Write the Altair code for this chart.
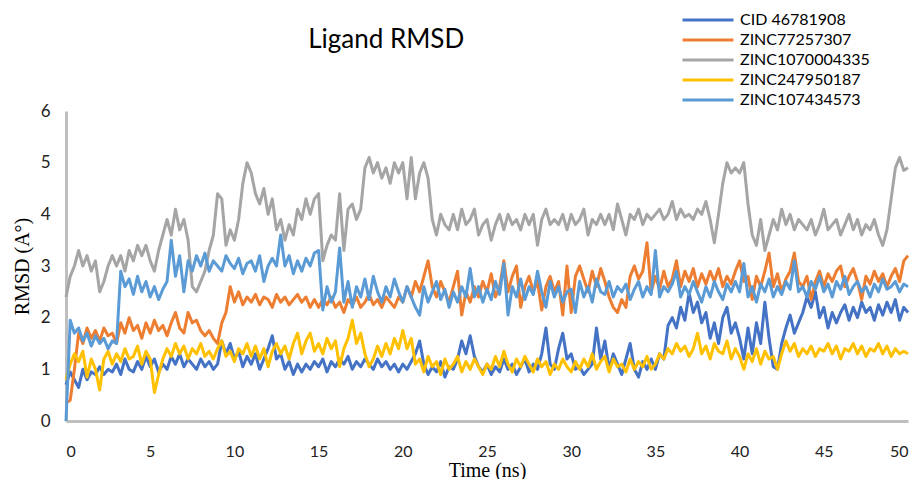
import altair as alt
import pandas as pd

series_names = ["CID 46781908", "ZINC77257307", "ZINC1070004335", "ZINC247950187", "ZINC107434573"]
series_colors = ["#4472C4", "#ED7D31", "#A5A5A5", "#FFC000", "#5B9BD5"]
time_step_ns = 0.25

cid_46781908 = [
    0.7, 0.95, 0.8, 0.65, 1.0, 0.8, 0.95, 0.9, 1.05, 0.9, 1.0, 0.95, 1.1, 0.9, 1.2, 1.0,
    0.95, 1.15, 1.0, 1.25, 1.05, 1.2, 0.95, 1.1, 1.0, 1.25, 1.1, 1.3, 1.05, 1.2, 1.1, 1.0,
    1.2, 1.05, 1.15, 1.0, 1.1, 1.55, 1.3, 1.5, 1.2, 1.35, 1.05, 1.25, 1.1, 1.3, 1.0, 1.2,
    1.4, 1.65, 1.2, 1.3, 1.0, 1.15, 0.9, 1.1, 0.95, 1.1, 1.0, 1.15, 1.05, 1.2, 0.95, 1.15,
    1.05, 1.2, 1.1, 1.25, 1.0, 1.15, 1.05, 1.2, 1.1, 1.0, 1.2, 1.05, 1.15, 1.0, 1.1, 0.95,
    1.1, 1.0, 1.15, 1.3, 1.55, 1.1, 0.9, 1.05, 0.95, 1.15, 0.85, 1.05, 1.0, 1.2, 1.55, 1.3,
    1.65, 1.25, 1.05, 0.95, 1.1, 0.9, 1.05, 0.95, 1.2, 1.0, 1.1, 0.9, 1.05, 1.2, 0.95, 1.1,
    1.0, 1.3, 1.8, 1.1, 1.0, 1.4, 1.7, 1.2, 1.3, 1.0, 1.05, 0.9, 1.0, 1.1, 1.8, 1.2,
    1.55, 1.0, 1.3, 1.1, 0.9, 1.2, 1.5, 1.0, 0.85, 1.15, 1.0, 1.2, 1.0, 1.3, 1.2, 1.85,
    2.0, 1.8, 2.2, 1.95, 2.48, 2.1, 2.3, 1.9, 2.1, 1.6, 1.9, 1.5, 2.0, 2.2, 1.7, 1.9,
    1.6, 1.2, 1.8, 1.3, 1.9, 1.5, 2.3, 1.6, 1.05, 1.0, 1.5, 1.8, 2.05, 1.7, 1.9, 2.1,
    2.4, 2.2, 2.5, 2.0, 2.2, 1.8, 2.1, 1.9, 2.1, 2.25, 1.95, 2.2, 2.0, 2.3, 2.1, 2.2,
    1.95, 2.25, 2.05, 2.3, 2.1, 2.35, 1.95, 2.2, 2.1,
]

zinc77257307 = [
    0.35, 0.4, 1.0, 1.7, 1.5, 1.8, 1.6, 1.75, 1.55, 1.8, 1.65, 1.7, 1.5, 1.9, 1.7, 2.0,
    1.75, 1.85, 1.6, 1.9, 1.7, 1.95, 1.75, 1.85, 1.65, 1.9, 2.1, 1.8, 1.7, 2.1, 1.9, 1.95,
    1.75, 1.65, 1.75, 1.6, 1.5, 1.9, 2.1, 2.6, 2.3, 2.5, 2.25, 2.4, 2.3, 2.45, 2.25, 2.4,
    2.35, 2.2, 2.45, 2.3, 2.4, 2.25, 2.35, 2.45, 2.3, 2.4, 2.2, 2.35, 2.2, 2.35, 2.25, 2.4,
    2.2, 2.3, 2.1, 2.35, 2.25, 2.4, 2.2, 2.3, 2.45, 2.25, 2.35, 2.2, 2.4, 2.3, 2.2, 2.4,
    2.3, 2.6, 2.4, 2.7, 2.5, 2.8, 3.1, 2.6, 2.4, 2.7, 2.5, 2.3, 2.6, 2.9, 2.05, 2.5,
    2.3, 2.6, 2.4, 2.7, 2.5, 2.85, 2.4, 2.6, 3.1, 2.5, 2.8, 3.0, 2.2, 2.6, 2.8, 2.5,
    2.7, 2.15, 2.6, 2.8, 2.5, 2.7, 2.05, 3.0, 2.1, 2.8, 3.0, 2.75, 2.5, 2.9, 2.6, 2.95,
    2.7, 2.4, 2.2, 2.1, 2.35, 2.2, 2.8, 3.0, 2.75, 2.9, 3.45, 2.5, 2.8, 2.55, 2.9, 2.6,
    2.75, 3.1, 2.6, 2.9, 2.7, 2.95, 2.6, 2.85, 2.65, 2.9, 2.7, 2.95, 2.6, 2.8, 2.65, 2.9,
    3.1, 2.7, 2.8, 2.35, 2.8, 2.6, 2.9, 3.25, 2.6, 2.85, 2.5, 2.75, 2.9, 3.25, 2.7, 2.6,
    2.8, 2.35, 2.7, 2.9, 2.6, 2.85, 2.7, 2.9, 3.0, 2.6, 2.8, 2.95, 2.7, 2.35, 2.8, 2.65,
    2.9, 2.7, 2.85, 2.6, 2.8, 2.95, 2.7, 3.1, 3.2,
]

zinc1070004335 = [
    2.4, 2.8, 3.0, 3.3, 3.0, 3.2, 2.9, 3.1, 2.5, 2.7, 3.0, 3.2, 3.0, 3.2, 2.9, 3.3,
    3.1, 3.4, 3.2, 3.4, 3.1, 2.9, 3.3, 3.6, 3.9, 3.6, 4.1, 3.7, 3.9, 3.5, 2.6, 2.5,
    2.7, 2.9, 3.3, 3.6, 4.4, 4.3, 3.4, 3.7, 3.5, 3.9, 4.6, 5.0, 4.8, 4.4, 4.2, 4.5,
    4.0, 4.3, 3.7, 3.9, 3.5, 3.8, 3.6, 4.1, 3.9, 4.3, 4.0, 4.3, 4.4, 3.1, 3.4, 3.6,
    3.5, 4.4, 3.3, 4.1, 4.2, 3.9, 4.1, 4.9, 5.1, 4.8, 5.0, 4.7, 4.9, 4.6, 5.0, 4.8,
    5.0, 4.3, 5.1, 4.3, 4.8, 5.0, 4.7, 3.9, 3.6, 4.0, 3.8, 3.7, 4.0, 3.7, 4.1, 3.8,
    3.9, 4.1, 3.6, 3.8, 3.9, 3.5, 3.8, 4.0, 3.7, 4.0, 3.8, 3.9, 3.7, 4.0, 3.8, 4.0,
    3.4, 3.9, 4.1, 3.8, 3.9, 3.8, 4.0, 3.7, 4.0, 3.8, 3.9, 4.1, 3.6, 3.9, 3.8, 4.0,
    3.8, 4.0, 3.7, 4.2, 3.9, 3.6, 4.0, 3.9, 4.1, 3.8, 4.0, 3.9, 4.0, 4.1, 3.9, 4.0,
    4.25, 3.9, 4.1, 3.95, 4.0, 3.9, 4.1, 4.0, 4.25, 3.9, 3.45, 4.0, 4.6, 5.0, 4.8, 4.9,
    4.8, 5.0, 4.2, 3.6, 3.4, 3.9, 3.3, 3.6, 3.9, 3.7, 4.1, 3.8, 4.0, 3.7, 3.9, 3.8,
    3.7, 3.9, 3.6, 3.8, 4.1, 3.7, 3.8, 3.9, 3.6, 3.8, 4.0, 3.7, 3.9, 3.6, 3.8, 3.7,
    3.9, 3.6, 3.4, 3.7, 4.3, 4.9, 5.1, 4.85, 4.9,
]

zinc247950187 = [
    0.8, 1.1, 1.3, 1.15, 1.35, 0.85, 1.2, 1.0, 0.6, 1.2, 1.35, 1.1, 1.3, 1.15, 1.4, 1.2,
    1.25, 1.45, 1.1, 1.35, 1.2, 0.55, 0.9, 1.2, 1.4, 1.25, 1.5, 1.3, 1.45, 1.2, 1.4, 1.3,
    1.5, 1.25, 1.35, 1.2, 1.4, 1.55, 1.25, 1.35, 1.15, 1.4, 1.3, 1.5, 1.25, 1.45, 1.2, 1.4,
    1.05, 1.35, 1.5, 1.3, 1.45, 1.2, 1.5, 1.7, 1.3, 1.55, 1.7, 1.35, 1.5, 1.3, 1.6, 1.4,
    1.55, 1.05, 1.4, 1.6, 1.95, 1.5, 1.7, 1.3, 1.05, 1.2, 1.45, 1.25, 1.5, 1.3, 1.6, 1.4,
    1.75, 1.4, 1.6, 1.1, 1.2, 0.95, 1.25, 1.05, 1.15, 0.9, 1.2, 1.0, 1.1, 1.25, 0.95, 1.15,
    1.0, 1.2, 1.05, 0.9, 1.1, 1.0, 1.25, 1.05, 1.35, 1.1, 0.95, 1.2, 1.05, 1.25, 1.1, 0.95,
    1.2, 1.05, 1.15, 0.9, 1.1, 1.0, 1.2, 1.05, 0.95, 1.15, 1.0, 1.2, 1.05, 1.3, 1.0, 1.15,
    1.25, 0.95, 1.2, 1.05, 1.1, 0.95, 1.2, 1.0, 1.15, 1.05, 1.25, 1.0, 1.1, 1.3, 1.2, 1.4,
    1.3, 1.5, 1.35, 1.45, 1.25, 1.4, 1.7, 1.3, 1.45, 1.2, 1.5, 1.35, 1.3, 1.55, 1.2, 1.4,
    1.25, 1.0, 1.3, 1.15, 1.4, 1.1, 1.35, 1.2, 1.25, 1.0, 1.3, 1.55, 1.35, 1.5, 1.25, 1.4,
    1.3, 1.45, 1.25, 1.4, 1.35, 1.5, 1.3, 1.45, 1.2, 1.4, 1.35, 1.5, 1.3, 1.45, 1.25, 1.4,
    1.35, 1.5, 1.3, 1.45, 1.25, 1.4, 1.3, 1.35, 1.3,
]

zinc107434573 = [
    0.0, 1.95, 1.7, 1.8, 1.55, 1.7, 1.45, 1.65, 1.5, 1.6, 1.4, 1.55, 1.5, 2.9, 2.6, 2.75,
    2.45, 2.8, 2.5, 2.7, 2.4, 2.6, 2.35, 2.55, 2.7, 3.5, 2.8, 3.2, 2.5, 3.1, 2.9, 3.2,
    3.0, 3.25, 2.9, 3.1, 3.0, 2.9, 3.2, 3.05, 2.95, 3.15, 2.85, 3.05, 3.1, 2.9, 3.2, 2.7,
    3.0, 3.15, 3.0, 3.6, 3.0, 3.2, 2.85, 3.1, 2.9, 3.15, 3.0, 3.25, 3.3, 2.15, 2.6, 2.3,
    2.5, 3.35, 2.3, 2.7, 2.2, 2.6, 2.4, 2.75, 2.35, 2.8, 2.5, 2.3, 2.6, 2.4, 2.75, 2.5,
    2.3, 2.6, 2.4, 2.2, 2.05, 2.6, 2.3, 2.5, 2.7, 2.35, 2.55, 2.2, 2.5, 2.3, 2.6, 2.4,
    2.95, 2.4, 2.6, 2.3, 2.55, 2.35, 2.7, 2.45, 3.05, 2.05, 2.6, 2.4, 2.75, 2.35, 2.6, 2.45,
    2.9, 2.5, 2.2, 2.7, 2.4, 2.6, 2.3, 2.5, 2.55, 2.1, 2.7, 2.4, 2.6, 2.3, 2.75, 2.5,
    2.45, 2.7, 2.4, 2.6, 2.5, 2.65, 2.35, 2.55, 2.7, 2.4, 2.6, 2.45, 3.3, 2.4, 2.6, 2.5,
    2.65, 2.9, 2.4, 2.6, 2.45, 2.7, 2.5, 2.3, 2.6, 2.4, 2.7, 2.5, 2.35, 2.65, 2.5, 2.7,
    2.5, 3.05, 2.4, 2.6, 2.3, 2.65, 2.5, 2.75, 2.4, 2.6, 2.45, 2.7, 2.55, 3.1, 2.5, 2.6,
    2.4, 2.7, 2.55, 2.8, 2.5, 2.65, 2.4, 2.7, 2.55, 2.8, 2.45, 2.6, 2.7, 2.5, 2.6, 2.4,
    2.65, 2.5, 2.75, 2.55, 2.6, 2.7, 2.5, 2.65, 2.6,
]

all_values = [cid_46781908, zinc77257307, zinc1070004335, zinc247950187, zinc107434573]

rows = []
for order, (name, vals) in enumerate(zip(series_names, all_values)):
    for i, v in enumerate(vals):
        rows.append({"time": i * time_step_ns, "rmsd": v, "series": name, "ord": order})
df = pd.DataFrame(rows)

x_ticks = [0, 5, 10, 15, 20, 25, 30, 35, 40, 45, 50]
y_ticks = [0, 1, 2, 3, 4, 5, 6]

chart = alt.Chart(df).mark_line(strokeWidth=3, strokeJoin="round").encode(
    x=alt.X("time:Q", title="Time (ns)",
            scale=alt.Scale(domain=[0, 50], nice=False),
            axis=alt.Axis(values=x_ticks, labelPadding=22, labelFontSize=16, titlePadding=1)),
    y=alt.Y("rmsd:Q", title="RMSD (A°)",
            scale=alt.Scale(domain=[0, 6], nice=False),
            axis=alt.Axis(values=y_ticks, labelPadding=16, titlePadding=8)),
    color=alt.Color("series:N",
                    scale=alt.Scale(domain=series_names, range=series_colors),
                    legend=alt.Legend(title=None, orient="none", legendX=632, legendY=-101,
                                      symbolType="M-3,0H3", symbolSize=289,
                                      symbolStrokeWidth=3, labelFontSize=16,
                                      labelFont="Lato", labelColor="#000000",
                                      labelOffset=22, rowPadding=2, padding=0)),
    detail="ord:O",
).properties(
    width=842,
    height=310,
    autosize=alt.AutoSizeParams(type="none"),
    padding={"left": 58, "top": 103, "right": 2, "bottom": 58},
    title=alt.TitleParams("Ligand RMSD", anchor="start", dx=296, offset=-43,
                          font="Lato", fontSize=26, fontWeight="normal", color="#000000"),
).configure_view(
    stroke=None
).configure_axis(
    grid=False,
    ticks=False,
    domainColor="#BFBFBF",
    domainWidth=3,
    labelFont="Lato",
    labelFontSize=17,
    labelColor="#222222",
    titleFont="Liberation Serif",
    titleFontSize=20,
    titleFontWeight="normal",
    titleColor="#000000",
)

chart.save("out.html", embed_options={"renderer": "svg", "actions": False})
